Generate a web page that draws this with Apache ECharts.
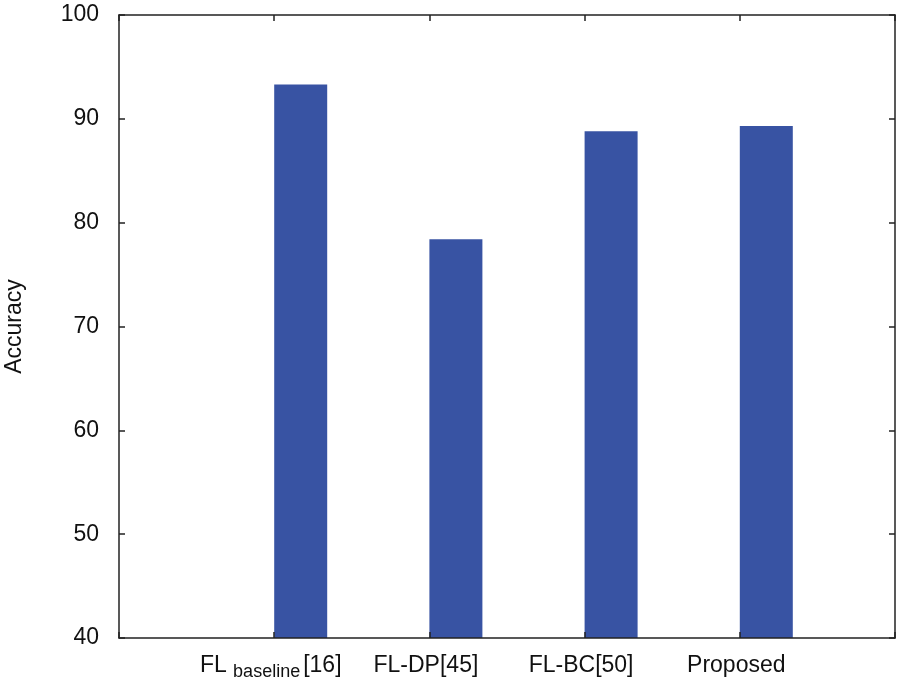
<!DOCTYPE html>
<html>
<head>
<meta charset="utf-8">
<script src="https://cdn.jsdelivr.net/npm/echarts@6/dist/echarts.min.js"></script>
<style>html,body{margin:0;padding:0;background:#fff;}#c{width:900px;height:684px;}</style>
</head>
<body>
<div id="c"></div>
<script>
const categories = ['FL baseline[16]', 'FL-DP[45]', 'FL-BC[50]', 'Proposed'];
const accuracy = [93.3, 78.4, 88.8, 89.3];
const yTicks = { min: 40, max: 100, interval: 10 };

const axisCats = [''].concat(categories, ['']);
const barData = ['-'].concat(accuracy, ['-']);
const placeholder = axisCats.map(() => '-');

const FONT = "'Liberation Sans', Arial, sans-serif";
const lineStyle = { color: '#222', width: 1.5 };

function fmtCat(v) {
  const m = /^FL baseline(.*)$/.exec(v);
  if (m) return '{m|FL }{s|baseline}{g|}{m|' + m[1] + '}';
  return v ? '{m|' + v + '}' : '';
}

const chart = echarts.init(document.getElementById('c'), null, { renderer: 'canvas' });
chart.setOption({
  animation: false,
  backgroundColor: '#fff',
  grid: { left: 119, right: 5, top: 15, bottom: 46, containLabel: false, outerBoundsMode: 'none' },
  xAxis: [
    {
      type: 'category', data: axisCats, position: 'bottom', boundaryGap: false, z: 10,
      axisLine: { show: true, lineStyle: lineStyle },
      axisTick: { show: true, inside: true, length: 6, lineStyle: lineStyle },
      splitLine: { show: false },
      axisLabel: {
        show: true, interval: 0, margin: 20, formatter: fmtCat,
        padding: [0, 7, 0, 0],
        rich: {
          m: { fontFamily: FONT, fontSize: 23, color: '#111', lineHeight: 23, verticalAlign: 'bottom', padding: [0, 0, 4, 0] },
          s: { fontFamily: FONT, fontSize: 18, color: '#111', lineHeight: 18, verticalAlign: 'bottom' },
          g: { width: 3, lineHeight: 18, verticalAlign: 'bottom' }
        }
      }
    },
    {
      type: 'category', data: axisCats, position: 'top', boundaryGap: false, z: 10,
      axisLine: { show: true, lineStyle: lineStyle },
      axisTick: { show: true, inside: true, length: 6, lineStyle: lineStyle },
      axisLabel: { show: false },
      splitLine: { show: false }
    }
  ],
  yAxis: [
    {
      type: 'value', min: yTicks.min, max: yTicks.max, interval: yTicks.interval, position: 'left', z: 10,
      name: 'Accuracy', nameLocation: 'middle', nameRotate: 90, nameGap: 93,
      nameTextStyle: { fontFamily: FONT, fontSize: 23, color: '#111' },
      axisLine: { show: true, lineStyle: lineStyle },
      axisTick: { show: true, inside: true, length: 6, lineStyle: lineStyle },
      splitLine: { show: false },
      axisLabel: { fontFamily: FONT, fontSize: 23, color: '#111', margin: 20 }
    },
    {
      type: 'value', min: yTicks.min, max: yTicks.max, interval: yTicks.interval, position: 'right', z: 10,
      axisLine: { show: true, lineStyle: lineStyle },
      axisTick: { show: true, inside: true, length: 6, lineStyle: lineStyle },
      splitLine: { show: false },
      axisLabel: { show: false }
    }
  ],
  series: [
    { type: 'bar', xAxisIndex: 0, yAxisIndex: 0, data: placeholder, barWidth: 53, barGap: '0%', silent: true },
    { type: 'bar', xAxisIndex: 0, yAxisIndex: 0, data: barData, barWidth: 53, barGap: '0%',
      itemStyle: { color: '#3853a3' } }
  ]
});
</script>
</body>
</html>
